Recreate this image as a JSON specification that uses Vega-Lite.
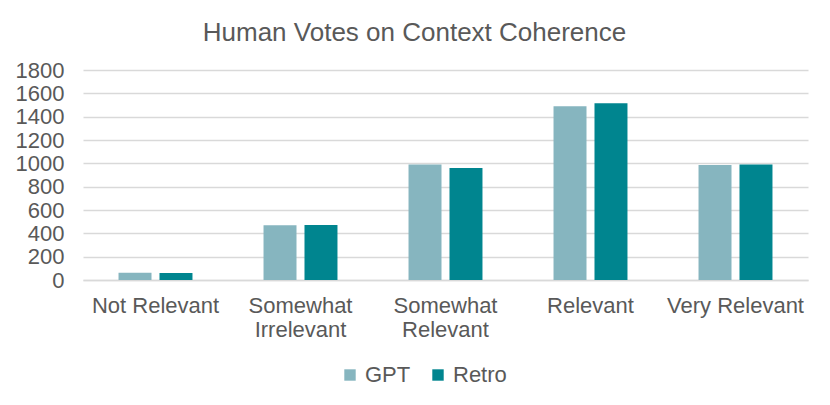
{
  "$schema": "https://vega.github.io/schema/vega-lite/v6.json",
  "width": 725,
  "height": 210,
  "autosize": {"type": "none"},
  "padding": {"left": 83, "top": 70, "right": 22, "bottom": 125},
  "background": "white",
  "title": {
    "text": "Human Votes on Context Coherence",
    "fontSize": 26,
    "font": "Liberation Sans",
    "fontWeight": "normal",
    "color": "#595959",
    "offset": 13,
    "dx": -31
  },
  "data": {
    "values": [
      {"category": "Not Relevant", "model": "GPT", "votes": 63},
      {"category": "Not Relevant", "model": "Retro", "votes": 60},
      {"category": "Somewhat Irrelevant", "model": "GPT", "votes": 469},
      {"category": "Somewhat Irrelevant", "model": "Retro", "votes": 472},
      {"category": "Somewhat Relevant", "model": "GPT", "votes": 989},
      {"category": "Somewhat Relevant", "model": "Retro", "votes": 960},
      {"category": "Relevant", "model": "GPT", "votes": 1489},
      {"category": "Relevant", "model": "Retro", "votes": 1514},
      {"category": "Very Relevant", "model": "GPT", "votes": 986},
      {"category": "Very Relevant", "model": "Retro", "votes": 989}
    ]
  },
  "mark": {"type": "bar"},
  "encoding": {
    "x": {
      "field": "category",
      "type": "nominal",
      "sort": null,
      "title": null,
      "scale": {"paddingInner": 0.49, "paddingOuter": 0.245},
      "axis": {
        "labelAngle": 0,
        "labelExpr": "datum.value == 'Somewhat Irrelevant' ? ['Somewhat', 'Irrelevant'] : datum.value == 'Somewhat Relevant' ? ['Somewhat', 'Relevant'] : datum.value",
        "labelLineHeight": 24,
        "labelPadding": 15,
        "ticks": false,
        "domainColor": "#d9d9d9",
        "domainWidth": 1.5
      }
    },
    "xOffset": {
      "field": "model",
      "type": "nominal",
      "scale": {"paddingInner": 0.195, "paddingOuter": 0}
    },
    "y": {
      "field": "votes",
      "type": "quantitative",
      "title": null,
      "scale": {"domain": [0, 1800]},
      "axis": {
        "values": [0, 200, 400, 600, 800, 1000, 1200, 1400, 1600, 1800],
        "format": "d",
        "domain": false,
        "ticks": false,
        "labelPadding": 19,
        "gridColor": "#d9d9d9",
        "gridWidth": 1.5
      }
    },
    "color": {
      "field": "model",
      "type": "nominal",
      "title": null,
      "scale": {"domain": ["GPT", "Retro"], "range": ["#86B5BF", "#00858F"]},
      "legend": {
        "orient": "none",
        "legendX": 256,
        "legendY": 294,
        "direction": "horizontal",
        "symbolType": "square",
        "symbolSize": 130,
        "symbolStrokeWidth": 0,
        "labelFontSize": 22,
        "columnPadding": 16,
        "labelOffset": 4
      }
    }
  },
  "config": {
    "view": {"stroke": null},
    "font": "Liberation Sans",
    "axis": {
      "labelFont": "Liberation Sans",
      "labelFontSize": 22,
      "labelColor": "#595959"
    },
    "legend": {
      "labelFont": "Liberation Sans",
      "labelColor": "#595959"
    }
  }
}
